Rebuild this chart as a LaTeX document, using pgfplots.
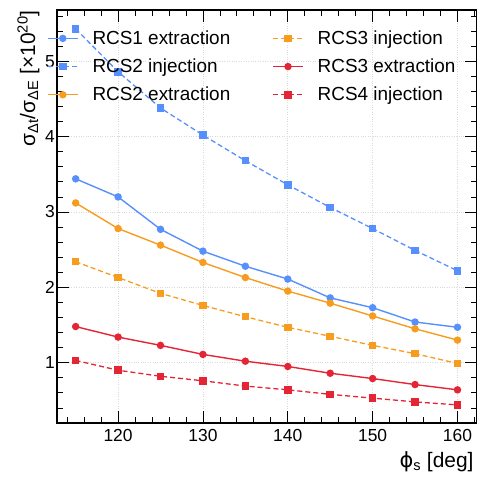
\documentclass[border=0pt]{standalone}
\usepackage{fontspec}
\setmainfont{Liberation Sans}
\newfontfamily\dejavu{DejaVu Sans}
\usepackage{pgfplots}
\pgfplotsset{compat=1.18}
\definecolor{pblue}{HTML}{5790FC}
\definecolor{porange}{HTML}{F89C20}
\definecolor{pred}{HTML}{E42536}
\tikzset{
  solidln/.style={line width=1.4bp, mark=*, mark size=3bp, mark options={solid}},
  dashln/.style={line width=1.3bp, dash pattern=on 5bp off 3bp, mark=square*, mark size=3.1bp, mark options={solid}},
}

\begin{document}
\begin{tikzpicture}
\begin{axis}[
  at={(57bp,55bp)}, anchor=south west,
  scale only axis, width=420bp, height=413bp,
  xmin=112.8, xmax=162.3, ymin=0.2, ymax=5.68,
  xtick={120,130,...,160}, ytick={1,2,3,4,5},
  minor xtick={114,116,...,162},
  minor ytick={0.2,0.4,...,5.6},
  tick pos=both, tick align=inside,
  major tick length=12bp, minor tick length=6bp,
  every tick/.append style={black, line width=0.8bp},
  grid=major, grid style={gray!30, dotted, line width=0.6bp},
  axis line style={line width=1.3bp},
  ticklabel style={font=\fontsize{17.5}{18}\selectfont},
  /pgf/number format/assume math mode=true,
  yticklabel style={inner sep=2bp},
  xticklabel style={yshift=-3bp},
  xlabel={{\dejavu ϕ}\textsubscript{s} [deg]},
  ylabel={σ\textsubscript{Δt}/σ\textsubscript{ΔE} [×10\textsuperscript{20}]},
  label style={font=\fontsize{21}{22}\selectfont},
  xlabel style={at={([yshift=-25bp]rel axis cs:1,0)}, anchor=north east},
  ylabel style={at={([xshift=-14bp, yshift=3bp]rel axis cs:0,1)}, anchor=south east},
  legend columns=2,
  legend cell align=left,
  legend style={draw=none, fill=none, at={(rel axis cs:-0.024,0.955)}, anchor=north west,
    font=\fontsize{19}{20}\selectfont, inner sep=0pt, row sep=9bp,
    /tikz/every odd column/.append style={column sep=12bp},
    /tikz/every even column/.append style={column sep=40bp}},
  legend image code/.code={\draw[mark repeat=2, mark phase=2] plot coordinates {(0bp,0bp) (15bp,0bp) (30bp,0bp)};},
]
% legend is filled row by row: col 1 = RCS1 ext, RCS2 inj, RCS2 ext; col 2 = RCS3 inj, RCS3 ext, RCS4 inj
\addplot[pblue, solidln] coordinates {
  (115,3.44) (120,3.20) (125,2.77) (130,2.48) (135,2.28)
  (140,2.11) (145,1.86) (150,1.73) (155,1.54) (160,1.47)};
\addlegendentry{RCS1 extraction}
\addplot[porange, dashln] coordinates {
  (115,2.34) (120,2.13) (125,1.92) (130,1.76) (135,1.61)
  (140,1.47) (145,1.35) (150,1.23) (155,1.12) (160,0.99)};
\addlegendentry{RCS3 injection}
\addplot[pblue, dashln] coordinates {
  (115,5.43) (120,4.86) (125,4.38) (130,4.02) (135,3.68)
  (140,3.36) (145,3.06) (150,2.78) (155,2.49) (160,2.22)};
\addlegendentry{RCS2 injection}
\addplot[pred, solidln] coordinates {
  (115,1.48) (120,1.34) (125,1.23) (130,1.11) (135,1.02)
  (140,0.95) (145,0.86) (150,0.79) (155,0.71) (160,0.64)};
\addlegendentry{RCS3 extraction}
\addplot[porange, solidln] coordinates {
  (115,3.12) (120,2.78) (125,2.56) (130,2.33) (135,2.13)
  (140,1.95) (145,1.79) (150,1.62) (155,1.45) (160,1.30)};
\addlegendentry{RCS2 extraction}
\addplot[pred, dashln] coordinates {
  (115,1.03) (120,0.90) (125,0.82) (130,0.76) (135,0.69)
  (140,0.64) (145,0.58) (150,0.53) (155,0.48) (160,0.44)};
\addlegendentry{RCS4 injection}
\end{axis}
\pgfresetboundingbox
\useasboundingbox (0,0) rectangle (477bp,478bp);
\end{tikzpicture}
\end{document}
